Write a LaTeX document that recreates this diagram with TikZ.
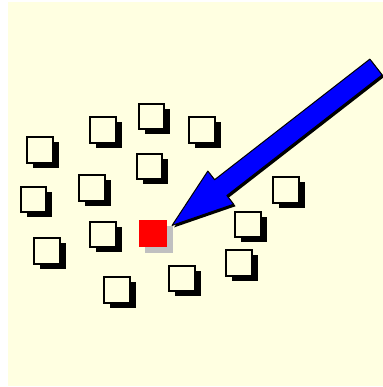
\documentclass[tikz,border=0pt]{standalone}
\usetikzlibrary{calc,shadows}
\definecolor{papel}{RGB}{255,255,225}
\definecolor{sombra}{RGB}{192,192,192}

\begin{document}
\begin{tikzpicture}[
  x = 0.02cm, y = -0.02cm,
  caixa/.style = {draw, line width=0.04cm, fill=papel, minimum size=0.51cm, inner sep=0pt,
    drop shadow={shadow xshift=0.12cm, shadow yshift=-0.1cm, fill=black, opacity=1}},
  alvo/.style = {fill=red, minimum size=0.55cm, inner sep=0pt,
    drop shadow={shadow xshift=0.12cm, shadow yshift=-0.12cm, fill=sombra, opacity=1}},
  seta/.style = {fill=blue, draw=black, line width=0.02cm, line join=round,
    preaction={fill=black, transform canvas={shift={(0.04cm,-0.04cm)}}}}
]
% fundo
\useasboundingbox (0,0) rectangle (383,387);
\fill[white] (0,0) rectangle (383,387);
\fill[papel] (8,2) rectangle (383,386);

% caixas brancas
\foreach \n/\px/\py in {1/40/150, 2/103/130, 3/151.5/116.5, 4/202/130, 5/149.5/166.5,
    6/92/188, 7/33.5/199.5, 8/103/234.5, 9/47/251, 10/117/290,
    11/182/278.5, 12/239/263, 13/248/224.5, 14/286/190}
  \node[caixa] (c\n) at (\px,\py) {};

% caixa vermelha
\node[alvo] (alvo) at (153,233.5) {};

% seta
\coordinate (ponta) at ($(alvo.north east)+(5,6)$);
\coordinate (cauda) at (376,67);
\coordinate (colo) at ($(ponta)!62/260!(cauda)$);
\draw[seta] (ponta) -- ($(colo)!0.42cm!90:(cauda)$) -- ($(colo)!0.2cm!90:(cauda)$)
  -- ($(cauda)!0.2cm!-90:(colo)$) -- ($(cauda)!0.2cm!90:(colo)$)
  -- ($(colo)!0.2cm!-90:(cauda)$) -- ($(colo)!0.42cm!-90:(cauda)$) -- cycle;

\end{tikzpicture}
\end{document}
